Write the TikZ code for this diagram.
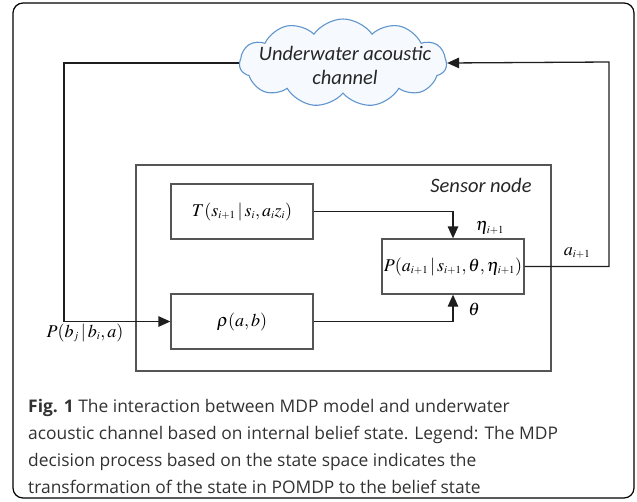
\documentclass[tikz,border=0pt]{standalone}
\usepackage{mathptmx}
\usepackage{fontspec}
\setsansfont{Open Sans}
\newfontfamily\cloudfont{Carlito}
\usepackage{xcolor}
\definecolor{LineCol}{RGB}{30,30,30}
\definecolor{BoxCol}{RGB}{85,85,85}
\definecolor{CloudCol}{RGB}{96,150,205}
\definecolor{CloudFill}{RGB}{246,249,253}
\definecolor{CapCol}{RGB}{50,50,50}
\usepackage{tikz}
\usetikzlibrary{shapes.symbols}
\usetikzlibrary{arrows.meta}
\newcommand{\Idx}[1]{_{\scriptscriptstyle #1}}
\tikzstyle{Box}=[rectangle,draw=BoxCol,line width=1.3pt,minimum width=142pt,
minimum height=55pt,inner sep=0pt,font=\fontsize{18}{20}\selectfont]
\tikzstyle{Edge}=[draw=LineCol,line width=1.3pt]
\tikzstyle{Arrow}=[Edge,-{Triangle[length=12pt,width=10.5pt]}]
\tikzstyle{Label}=[inner sep=0pt,font=\fontsize{18}{20}\selectfont]
\tikzstyle{Italic}=[font=\cloudfont\itshape\fontsize{20.5}{24}\selectfont,text=black!85]

\begin{document}
\begin{tikzpicture}[x=1pt,y=-1pt]
    \useasboundingbox (0,0) rectangle (637,501);
    \draw[line width=1.2pt,rounded corners=10pt](13,3) rectangle (634,498);
    % cloud
    \node[cloud,cloud puffs=11,cloud puff arc=110,aspect=2.4,draw=CloudCol,
      fill=CloudFill,line width=1.1pt,minimum width=207pt,minimum height=88pt,
      inner sep=0pt](cloud)at(343,63){};
    \node[Italic,align=center](cloudtext)at(345,65)
      {Underwater acoustic\\channel};
    % sensor node
    \node[draw=BoxCol,line width=1.3pt,minimum width=415pt,minimum height=206pt,
      inner sep=0pt](sensor)at(343.5,268){};
    \node[Italic](sensortext)at(481,185){Sensor node};
    \node[Box](T)at(242,211.5){$T(s\Idx{i+1}\,|\,s\Idx{i},a\Idx{i}z\Idx{i})$\hspace{22pt}};
    \node[Box](rho)at(242,321.5){$\rho(a,b)$};
    \node[Box](P)at(453,266.5){$P(a\Idx{i+1}\,|\,s\Idx{i+1},\theta,\eta\Idx{i+1})$};
    \coordinate(left)at(64,321.5);
    \coordinate(right)at(609,62);
    \draw[Arrow](cloud.west)-|(left)--(rho.west);
    \draw[Arrow](T.east)-|(P.north);
    \draw[Arrow](rho.east)-|(P.south);
    \draw[Arrow](P.east)-|(right)--(cloud.east);
    \node[Label](eta)at(490,228){$\eta\Idx{i+1}$};
    \node[Label](theta)at(474,309){$\theta$};
    \node[Label](act)at(577,253){$a\Idx{i+1}$};
    \node[Label](belief)at(85,333){$P(b\Idx{j}\,|\,b\Idx{i},a)$};
    % caption
    \node[anchor=north west,align=left,inner sep=0pt,text=CapCol,
      font=\sffamily\fontsize{17.4}{27}\selectfont](caption)at(28,399)
      {\textbf{Fig. 1} The interaction between MDP model and underwater\\
       acoustic channel based on internal belief state. Legend: The MDP\\
       decision process based on the state space indicates the\\
       transformation of the state in POMDP to the belief state};
\end{tikzpicture}
\end{document}
